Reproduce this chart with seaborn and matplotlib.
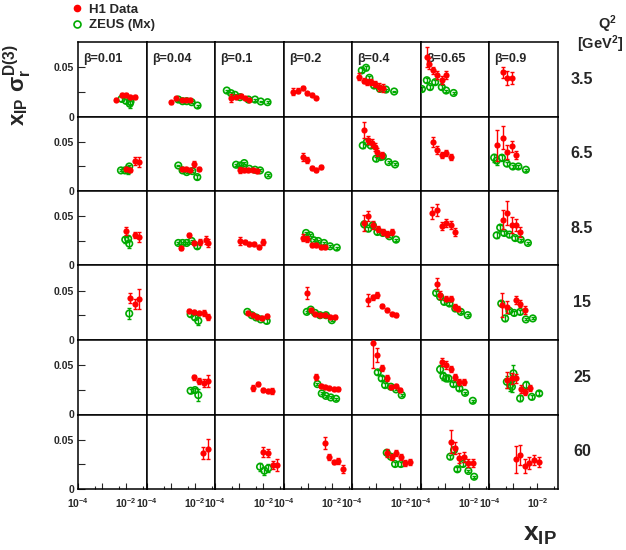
import pandas as pd
import seaborn as sns
import matplotlib.pyplot as plt
from matplotlib.lines import Line2D
from matplotlib.ticker import FixedLocator

# --- panel labels ---
betas = ['0.01', '0.04', '0.1', '0.2', '0.4', '0.65', '0.9']
q2_values = ['3.5', '6.5', '8.5', '15', '25', '60']

# --- H1 data: one list per Q2 row, one sub-list per beta, points are (x_IP, x_IP*sigma, err) ---
h1_q35 = [
    [(3.7e-3, 0.017, 0.0015), (6.4e-3, 0.022, 0.002), (9.7e-3, 0.022, 0.002), (1.5e-2, 0.020, 0.002), (2.3e-2, 0.020, 0.002)],
    [(1.02e-3, 0.0143, 0.0015), (1.65e-3, 0.0187, 0.0015), (2.8e-3, 0.0173, 0.0015), (4.3e-3, 0.017, 0.0015), (6.3e-3, 0.0173, 0.0015)],
    [(4.5e-4, 0.0187, 0.004), (7.3e-4, 0.0197, 0.002), (1.14e-3, 0.0214, 0.002), (1.7e-3, 0.0187, 0.0015), (2.6e-3, 0.0173, 0.0015)],
    [(2.3e-4, 0.0255, 0.004), (3.7e-4, 0.0265, 0.003), (6.1e-4, 0.0289, 0.002), (9.5e-4, 0.0238, 0.0015), (1.45e-3, 0.0224, 0.0015), (2.2e-3, 0.019, 0.0015)],
    [(1.96e-4, 0.0408, 0.004), (3.1e-4, 0.0367, 0.003), (4.2e-4, 0.035, 0.003), (5.8e-4, 0.035, 0.003), (8.8e-4, 0.0333, 0.003), (1.33e-3, 0.030, 0.004), (1.85e-3, 0.0293, 0.004)],
    [(1.86e-4, 0.061, 0.01), (2.2e-4, 0.054, 0.006), (3.1e-4, 0.047, 0.004), (4.6e-4, 0.042, 0.004), (7.4e-4, 0.037, 0.004), (1.1e-3, 0.042, 0.004)],
    [(3.6e-4, 0.045, 0.006), (5.3e-4, 0.0395, 0.007), (8.6e-4, 0.0395, 0.006)],
]
h1_q65 = [
    [(9.4e-3, 0.0227, 0.002), (1.42e-2, 0.021, 0.002), (2.3e-2, 0.031, 0.004), (3.5e-2, 0.0295, 0.005)],
    [(2.8e-3, 0.0227, 0.002), (4.3e-3, 0.0227, 0.002), (6.3e-3, 0.021, 0.002), (9.5e-3, 0.0271, 0.003), (1.55e-2, 0.022, 0.002)],
    [(1.07e-3, 0.021, 0.003), (1.57e-3, 0.021, 0.002), (2.4e-3, 0.021, 0.002), (3.6e-3, 0.021, 0.002), (5.6e-3, 0.0203, 0.002)],
    [(6.1e-4, 0.0346, 0.004), (9e-4, 0.032, 0.003), (1.45e-3, 0.0238, 0.002), (2.2e-3, 0.021, 0.002), (3.4e-3, 0.0244, 0.002)],
    [(3.1e-4, 0.0625, 0.008), (4.6e-4, 0.052, 0.004), (6.4e-4, 0.049, 0.004), (8.9e-4, 0.0448, 0.004), (1.1e-3, 0.0397, 0.004), (1.67e-3, 0.0363, 0.003)],
    [(3.1e-4, 0.050, 0.005), (4.6e-4, 0.0414, 0.004), (7.4e-4, 0.0363, 0.003), (1.12e-3, 0.0387, 0.003), (1.77e-3, 0.0346, 0.003)],
    [(2.1e-4, 0.0465, 0.016), (3.5e-4, 0.0544, 0.012), (5.3e-4, 0.0397, 0.007), (8.6e-4, 0.0455, 0.006), (1.3e-3, 0.0363, 0.004)],
]
h1_q85 = [
    [(9.7e-3, 0.0352, 0.004), (2.3e-2, 0.0308, 0.003), (3.5e-2, 0.029, 0.005)],
    [(2.6e-3, 0.0183, 0.002), (5.9e-3, 0.0308, 0.002), (9.5e-3, 0.023, 0.002), (1.65e-2, 0.024, 0.003), (2.95e-2, 0.0257, 0.004), (3.5e-2, 0.023, 0.004)],
    [(1.07e-3, 0.025, 0.004), (1.7e-3, 0.024, 0.002), (2.6e-3, 0.0223, 0.002), (4.1e-3, 0.0216, 0.002), (6.6e-3, 0.0189, 0.002), (1e-2, 0.024, 0.003)],
    [(6.1e-4, 0.0285, 0.004), (9e-4, 0.0274, 0.003), (1.45e-3, 0.0206, 0.002), (2.2e-3, 0.0206, 0.002), (3.4e-3, 0.0189, 0.002), (5.2e-3, 0.0189, 0.002)],
    [(3.1e-4, 0.0434, 0.008), (4.6e-4, 0.0502, 0.005), (7.5e-4, 0.041, 0.004), (1.14e-3, 0.0376, 0.003), (1.85e-3, 0.0342, 0.003), (2.9e-3, 0.0325, 0.003), (4.4e-3, 0.0342, 0.003)],
    [(3e-4, 0.0536, 0.006), (4.6e-4, 0.057, 0.006), (7.4e-4, 0.040, 0.004), (1.12e-3, 0.0434, 0.004), (1.77e-3, 0.041, 0.004), (2.7e-3, 0.0342, 0.004)],
    [(3.5e-4, 0.0468, 0.01), (5.3e-4, 0.0536, 0.012), (8.6e-4, 0.041, 0.008), (1.3e-3, 0.041, 0.006), (1.9e-3, 0.0342, 0.005)],
]
h1_q15 = [
    [(1.42e-2, 0.043, 0.005), (2.3e-2, 0.0365, 0.005), (3.5e-2, 0.0416, 0.01)],
    [(5.9e-3, 0.0297, 0.002), (9.3e-3, 0.0287, 0.002), (1.55e-2, 0.0276, 0.002), (2.4e-2, 0.0276, 0.003), (3.6e-2, 0.0236, 0.003)],
    [(2.4e-3, 0.0276, 0.002), (3.6e-3, 0.0253, 0.002), (5.3e-3, 0.023, 0.002), (8.6e-3, 0.022, 0.002), (1.47e-2, 0.0243, 0.002)],
    [(9e-4, 0.048, 0.006), (1.32e-3, 0.031, 0.002), (2e-3, 0.0263, 0.002), (3.2e-3, 0.0253, 0.002), (5.2e-3, 0.0253, 0.002), (8.4e-3, 0.0236, 0.002), (1.35e-2, 0.023, 0.002)],
    [(4.6e-4, 0.0406, 0.006), (7.1e-4, 0.0434, 0.003), (1.1e-3, 0.0457, 0.003), (1.67e-3, 0.0345, 0.002), (2.7e-3, 0.0304, 0.002), (4.4e-3, 0.027, 0.002), (6.6e-3, 0.0253, 0.002)],
    [(4.6e-4, 0.0576, 0.006), (6.3e-4, 0.0457, 0.004), (1.12e-3, 0.0423, 0.003), (1.77e-3, 0.0423, 0.003), (2.7e-3, 0.0338, 0.003), (3.6e-3, 0.0321, 0.003)],
    [(3.3e-4, 0.0355, 0.012), (5.3e-4, 0.0338, 0.006), (1.3e-3, 0.0406, 0.004), (1.9e-3, 0.0372, 0.004), (3.1e-3, 0.0304, 0.004)],
]
h1_q25 = [
    [],
    [(9.3e-3, 0.0378, 0.003), (1.55e-2, 0.0344, 0.003), (2.4e-2, 0.0323, 0.004), (3.6e-2, 0.0344, 0.006)],
    [(3.8e-3, 0.0266, 0.003), (6.2e-3, 0.031, 0.002), (1e-2, 0.0249, 0.002), (1.6e-2, 0.0239, 0.002), (2.4e-2, 0.0239, 0.003)],
    [(2.2e-3, 0.0385, 0.003), (3.4e-3, 0.029, 0.002), (5.2e-3, 0.0283, 0.002), (7.9e-3, 0.0266, 0.002), (1.23e-2, 0.0256, 0.002), (1.86e-2, 0.0256, 0.002)],
    [(7.1e-4, 0.073, 0.026), (1.1e-3, 0.0606, 0.007), (1.67e-3, 0.047, 0.003), (2.7e-3, 0.0368, 0.003), (4e-3, 0.0283, 0.002), (6.6e-3, 0.029, 0.002), (9.7e-3, 0.0249, 0.002)],
    [(7.4e-4, 0.0538, 0.004), (1.12e-3, 0.0504, 0.004), (1.77e-3, 0.046, 0.003), (2.7e-3, 0.0385, 0.003), (4e-3, 0.0334, 0.003), (6.3e-3, 0.0334, 0.003)],
    [(5.3e-4, 0.0351, 0.008), (8.6e-4, 0.0368, 0.006), (1.3e-3, 0.0368, 0.005), (2e-3, 0.0256, 0.004), (3.1e-3, 0.0232, 0.003), (5e-3, 0.0266, 0.003)],
]
h1_q60 = [
    [],
    [(2.25e-2, 0.037, 0.006), (3.6e-2, 0.0405, 0.01)],
    [(1e-2, 0.038, 0.005), (1.6e-2, 0.037, 0.004), (2.46e-2, 0.0245, 0.004), (3.8e-2, 0.0245, 0.006)],
    [(5.2e-3, 0.0466, 0.006), (7.9e-3, 0.0323, 0.003), (1.23e-2, 0.0279, 0.002), (1.86e-2, 0.0289, 0.003), (3e-2, 0.0201, 0.004)],
    [(2.7e-3, 0.0364, 0.004), (4.4e-3, 0.033, 0.003), (6.6e-3, 0.0364, 0.003), (1.04e-2, 0.033, 0.003), (1.63e-2, 0.0262, 0.003), (2.5e-2, 0.0279, 0.003)],
    [(1.77e-3, 0.0483, 0.012), (2.7e-3, 0.0415, 0.006), (4e-3, 0.0313, 0.005), (6.3e-3, 0.0323, 0.005), (9.5e-3, 0.0268, 0.004), (1.55e-2, 0.0262, 0.004)],
    [(1.3e-3, 0.0303, 0.014), (1.9e-3, 0.0347, 0.01), (3.1e-3, 0.0235, 0.007), (4.6e-3, 0.0268, 0.006), (7.5e-3, 0.0296, 0.005), (1.18e-2, 0.0279, 0.005)],
]

# --- ZEUS (Mx) data, same layout ---
zeus_q35 = [
    [(6.4e-3, 0.018, 0.002), (9.7e-3, 0.016, 0.002), (1.5e-2, 0.015, 0.003), (1.4e-2, 0.013, 0.004)],
    [(2.05e-3, 0.0173, 0.001), (3.1e-3, 0.0156, 0.001), (4.6e-3, 0.0156, 0.001), (7.4e-3, 0.0146, 0.001), (1.3e-2, 0.0112, 0.001)],
    [(3.0e-4, 0.0265, 0.001), (4.5e-4, 0.0238, 0.001), (6.6e-4, 0.0221, 0.001), (1.07e-3, 0.0197, 0.001), (2.4e-3, 0.0173, 0.001), (4.5e-3, 0.0173, 0.001), (7.8e-3, 0.0153, 0.001), (1.5e-2, 0.0146, 0.001)],
    [],
    [(2.46e-4, 0.047, 0.002), (3.7e-4, 0.0497, 0.002), (5.1e-4, 0.0395, 0.002), (8e-4, 0.0316, 0.002), (1.4e-3, 0.0282, 0.002), (2.5e-3, 0.0275, 0.001), (5.5e-3, 0.0255, 0.001)],
    [(1.1e-4, 0.028, 0.002), (1.76e-4, 0.037, 0.002), (2.4e-4, 0.030, 0.002), (3.9e-4, 0.035, 0.002), (7.4e-4, 0.030, 0.002), (1.12e-3, 0.0265, 0.001), (2.3e-3, 0.024, 0.001)],
    [],
]
zeus_q65 = [
    [(6e-3, 0.021, 0.001), (8.8e-3, 0.021, 0.001), (1.33e-2, 0.025, 0.002), (1.2e-2, 0.021, 0.004)],
    [(2.05e-3, 0.026, 0.001), (3.1e-3, 0.021, 0.001), (4.6e-3, 0.0193, 0.001), (7.9e-3, 0.0203, 0.001), (1.27e-2, 0.0142, 0.002)],
    [(7.3e-4, 0.0268, 0.001), (1.1e-3, 0.026, 0.001), (1.6e-3, 0.0285, 0.001), (2.6e-3, 0.0227, 0.001), (4.5e-3, 0.0217, 0.001), (7.3e-3, 0.021, 0.001), (1.6e-2, 0.016, 0.001)],
    [],
    [(2.7e-4, 0.0465, 0.003), (4e-4, 0.050, 0.003), (5.8e-4, 0.0465, 0.003), (9.7e-4, 0.033, 0.002), (1.5e-3, 0.0346, 0.002), (1.85e-3, 0.0353, 0.002), (3.2e-3, 0.0295, 0.001), (6e-3, 0.0271, 0.001)],
    [],
    [(1.57e-4, 0.034, 0.004), (2.0e-4, 0.031, 0.004), (3.3e-4, 0.034, 0.003), (5.3e-4, 0.028, 0.002), (9.4e-4, 0.025, 0.002), (1.6e-3, 0.025, 0.002), (3.3e-3, 0.0217, 0.001)],
]
zeus_q85 = [
    [(9.1e-3, 0.0264, 0.003), (1.33e-2, 0.0223, 0.004), (1.2e-2, 0.0274, 0.003)],
    [(2.05e-3, 0.023, 0.001), (3.1e-3, 0.023, 0.001), (4.6e-3, 0.023, 0.001), (7.4e-3, 0.025, 0.001), (1.27e-2, 0.0196, 0.002)],
    [],
    [(8.4e-4, 0.0332, 0.001), (1.24e-3, 0.0308, 0.001), (1.8e-3, 0.0257, 0.001), (2.7e-3, 0.025, 0.001), (4.7e-3, 0.023, 0.001), (8.4e-3, 0.0196, 0.001), (1.6e-2, 0.0183, 0.001)],
    [(3.1e-4, 0.042, 0.003), (4.6e-4, 0.0376, 0.002), (7.1e-4, 0.041, 0.002), (1.1e-3, 0.0342, 0.002), (1.85e-3, 0.0332, 0.002), (3.5e-3, 0.0298, 0.001), (6.6e-3, 0.0264, 0.001)],
    [],
    [(2e-4, 0.0308, 0.003), (2.8e-4, 0.0387, 0.003), (4.1e-4, 0.0332, 0.002), (6.8e-4, 0.0315, 0.002), (1.18e-3, 0.028, 0.002), (2e-3, 0.0264, 0.001), (4e-3, 0.023, 0.001)],
]
zeus_q15 = [
    [(1.33e-2, 0.027, 0.006)],
    [(6.7e-3, 0.0263, 0.002), (1.02e-2, 0.023, 0.002), (1.4e-2, 0.0195, 0.004)],
    [(2.15e-3, 0.0287, 0.001), (3.3e-3, 0.0253, 0.001), (5e-3, 0.023, 0.001), (7.8e-3, 0.021, 0.001), (1.38e-2, 0.0195, 0.002)],
    [(9e-4, 0.0287, 0.001), (1.32e-3, 0.031, 0.001), (2e-3, 0.0276, 0.001), (3.2e-3, 0.0253, 0.001), (5.7e-3, 0.0253, 0.001), (1e-2, 0.0202, 0.001)],
    [],
    [(4.3e-4, 0.048, 0.002), (6.3e-4, 0.044, 0.002), (9.3e-4, 0.0389, 0.002), (1.55e-3, 0.0372, 0.002), (2.7e-3, 0.0321, 0.002), (4.6e-3, 0.0287, 0.001), (8.9e-3, 0.0253, 0.001)],
    [(3.1e-4, 0.0372, 0.003), (4.5e-4, 0.022, 0.003), (6.8e-4, 0.0297, 0.002), (1.07e-3, 0.0276, 0.002), (1.9e-3, 0.0287, 0.002), (3.3e-3, 0.021, 0.001), (6.4e-3, 0.022, 0.001)],
]
zeus_q25 = [
    [],
    [(6.7e-3, 0.0242, 0.002), (1.02e-2, 0.0249, 0.002), (1.4e-2, 0.0198, 0.006)],
    [],
    [(2.5e-3, 0.031, 0.001), (3.8e-3, 0.0215, 0.001), (5.6e-3, 0.019, 0.001), (9e-3, 0.0174, 0.001), (1.5e-2, 0.016, 0.001)],
    [(1.14e-3, 0.043, 0.002), (1.67e-3, 0.0368, 0.002), (2.3e-3, 0.030, 0.002), (4e-3, 0.0283, 0.001), (6.6e-3, 0.0256, 0.001), (1.14e-2, 0.0198, 0.001)],
    [(6.3e-4, 0.046, 0.004), (8.7e-4, 0.039, 0.004), (1.12e-3, 0.0368, 0.003), (1.4e-3, 0.0368, 0.003), (2.26e-3, 0.031, 0.002), (4e-3, 0.0266, 0.002), (6.9e-3, 0.0221, 0.001), (1.45e-2, 0.014, 0.001)],
    [(5.3e-4, 0.0334, 0.006), (7.3e-4, 0.030, 0.006), (8.6e-4, 0.0283, 0.005), (1e-3, 0.042, 0.008), (1.9e-3, 0.0164, 0.003), (3.4e-3, 0.030, 0.004), (5.8e-3, 0.018, 0.002), (1.18e-2, 0.0215, 0.002)],
]
zeus_q60 = [
    [],
    [],
    [(7.3e-3, 0.0227, 0.004), (1.1e-2, 0.0187, 0.004), (1.6e-2, 0.0211, 0.004)],
    [],
    [(2.7e-3, 0.037, 0.003), (4e-3, 0.033, 0.002), (6e-3, 0.0255, 0.002), (1.04e-2, 0.0255, 0.002)],
    [(1.66e-3, 0.033, 0.002), (2.4e-3, 0.0398, 0.002), (3.3e-3, 0.0201, 0.002), (5.6e-3, 0.0255, 0.002), (9.5e-3, 0.0184, 0.001), (1.65e-2, 0.0125, 0.001)],
    [],
]

h1_rows = [h1_q35, h1_q65, h1_q85, h1_q15, h1_q25, h1_q60]
zeus_rows = [zeus_q35, zeus_q65, zeus_q85, zeus_q15, zeus_q25, zeus_q60]

# --- style ---
sns.set_style('white')
plt.rcParams['font.family'] = ['Liberation Sans', 'DejaVu Sans']
plt.rcParams['font.weight'] = 'bold'
plt.rcParams['mathtext.fontset'] = 'custom'
plt.rcParams['mathtext.rm'] = 'Liberation Sans:bold'
plt.rcParams['mathtext.bf'] = 'Liberation Sans:bold'
plt.rcParams['mathtext.it'] = 'Liberation Sans:bold'

RED = '#ff0000'
GREEN = '#00aa00'
W, H = 626, 550

fig, axes = plt.subplots(6, 7, figsize=(W / 100, H / 100), dpi=100, sharex=True, sharey=True)
fig.subplots_adjust(left=78.3 / W, right=558 / W, top=1 - 42 / H, bottom=1 - 489 / H,
                    wspace=0, hspace=0)

for r in range(6):
    for c in range(7):
        ax = axes[r, c]
        ax.set_xscale('log')

        zeus = pd.DataFrame(zeus_rows[r][c], columns=['x', 'y', 'err'])
        h1 = pd.DataFrame(h1_rows[r][c], columns=['x', 'y', 'err'])

        if len(zeus):
            ax.errorbar(zeus.x, zeus.y, yerr=zeus.err, fmt='none', ecolor=GREEN,
                        elinewidth=1, capsize=1.5, capthick=1)
            sns.scatterplot(data=zeus, x='x', y='y', ax=ax, marker='o', s=22,
                            facecolor='none', edgecolor=GREEN, linewidth=1.2,
                            legend=False, zorder=3)
        if len(h1):
            ax.errorbar(h1.x, h1.y, yerr=h1.err, fmt='none', ecolor=RED,
                        elinewidth=1, capsize=1.5, capthick=1, zorder=4)
            sns.scatterplot(data=h1, x='x', y='y', ax=ax, marker='o', s=20,
                            color=RED, edgecolor=RED, linewidth=0,
                            legend=False, zorder=5)

        ax.set_xlabel('')
        ax.set_ylabel('')
        for sp in ax.spines.values():
            sp.set_color('black')
            sp.set_linewidth(1.1)

        if r == 0:
            ax.text(0.07, 0.77, '\u03b2=' + betas[c], transform=ax.transAxes,
                    fontsize=9, fontweight='bold', va='center', ha='left')

ax0 = axes[0, 0]
ax0.set_xlim(1e-4, 0.072)
ax0.set_ylim(0, 0.076)
ax0.set_yticks([0, 0.025, 0.05])
ax0.set_yticklabels(['0', '', '0.05'])
ax0.set_xticks([1e-4, 1e-3, 1e-2])
ax0.set_xticklabels([r'$10^{-4}$', '', r'$10^{-2}$'])
ax0.xaxis.set_minor_locator(FixedLocator([5e-4, 5e-3, 5e-2]))

for r in range(6):
    for c in range(7):
        ax = axes[r, c]
        ax.tick_params(axis='y', which='both', direction='in', length=5, width=0.8,
                       labelsize=7.5, pad=3, left=(c == 0), labelleft=(c == 0), right=False)
        ax.tick_params(axis='x', which='major', direction='in', length=4, width=0.8,
                       labelsize=7.5, pad=5, bottom=(r == 5), labelbottom=(r == 5), top=False)
        ax.tick_params(axis='x', which='minor', direction='in', length=2.5, width=0.8,
                       bottom=(r == 5), labelbottom=False, top=False)

# --- Q2 labels on the right ---
row_top, row_h = 42, (489 - 42) / 6
for r, q in enumerate(q2_values):
    yc = row_top + row_h * (r + 0.5)
    fig.text(582 / W, 1 - yc / H, q, ha='center', va='center', fontsize=11.5, fontweight='bold')
fig.text(607 / W, 1 - 24 / H, r'Q$^2$', ha='center', va='center', fontsize=10.5, fontweight='bold')
fig.text(600 / W, 1 - 44 / H, r'[GeV$^2$]', ha='center', va='center', fontsize=10.5, fontweight='bold')

# --- axis titles ---
fig.text(18 / W, 1 - 85 / H, r'x$_{IP}$ $\sigma_r^{D(3)}$', rotation=90, ha='center', va='center',
         fontsize=16, fontweight='bold')
fig.text(540 / W, 1 - 535 / H, r'x$_{IP}$', ha='center', va='center', fontsize=19, fontweight='bold')

# --- legend ---
handles = [
    Line2D([], [], marker='o', linestyle='none', markersize=4.5, color=RED),
    Line2D([], [], marker='o', linestyle='none', markersize=5, markerfacecolor='none',
           markeredgecolor=GREEN, markeredgewidth=1.2),
]
fig.legend(handles, ['H1 Data', 'ZEUS (Mx)'], loc='upper left', bbox_to_anchor=(64 / W, 1.0 + 3 / H),
           frameon=False, handlelength=1.0, handletextpad=0.4, labelspacing=0.25,
           borderaxespad=0.1, prop={'weight': 'bold', 'size': 9.5})

fig.savefig('out.png', dpi=100)
